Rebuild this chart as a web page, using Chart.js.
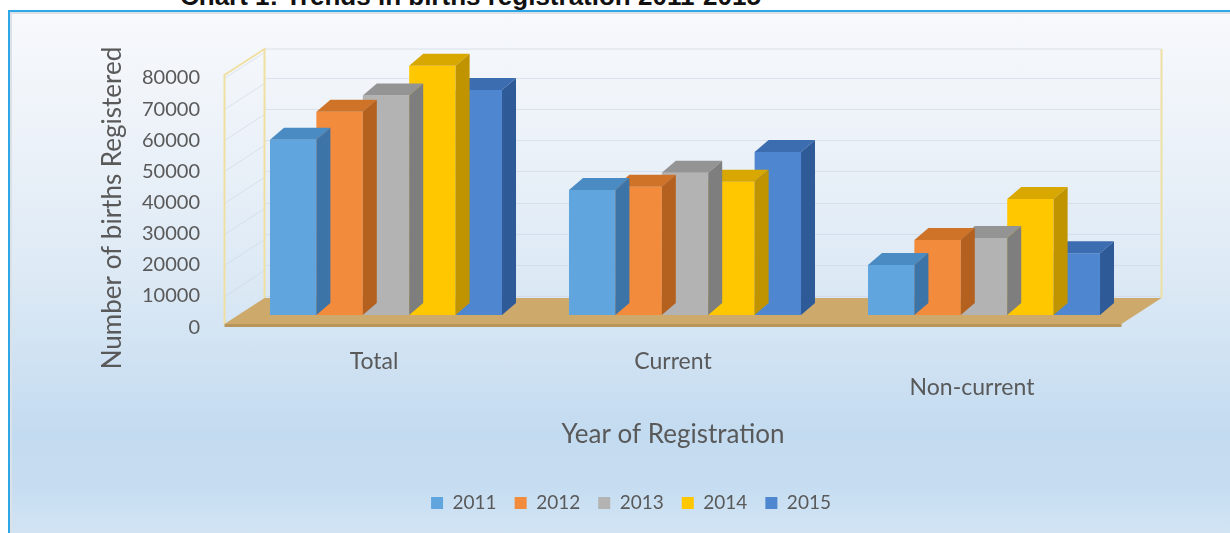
<!DOCTYPE html>
<html>
<head>
<meta charset="utf-8">
<script src="https://cdn.jsdelivr.net/npm/chart.js@4/dist/chart.umd.min.js"></script>
<style>
  body { margin: 0; background: #fff; overflow: hidden; width: 1230px; height: 533px; position: relative; }
  #title {
    position: absolute; left: 180px; top: -19px; line-height: 26px;
    font: bold 26px "Liberation Sans", Arial, sans-serif; color: #111; white-space: nowrap;
  }
  #box {
    position: absolute; left: 8px; top: 10px; width: 1240px; height: 540px;
    border-top: 2px solid #2ea7e8; border-left: 2px solid #2ea7e8;
    box-shadow: inset 2px 2px 0 #dde1e6;
    background: linear-gradient(to bottom, #f7f9fc 0%, #eef3f9 20%, #dce9f5 50%, #c3dbf0 78%, #c6ddf1 88%, #d6e7f5 100%);
  }
  #chart { position: absolute; left: 10px; top: 12px; }
</style>
</head>
<body>
<div id="title">Chart 1: Trends in births registration 2011-2015</div>
<div id="box"></div>
<canvas id="chart" width="1220" height="521"></canvas>
<script>
const categories = ["Total", "Current", "Non-current"];
const years = ["2011", "2012", "2013", "2014", "2015"];
const births2011 = [56300, 40200, 16100];
const births2012 = [65300, 41200, 24100];
const births2013 = [70500, 45700, 24800];
const births2014 = [80100, 42800, 37300];
const births2015 = [72300, 52400, 19900];
const yTicks = [0, 10000, 20000, 30000, 40000, 50000, 60000, 70000, 80000];

const series = [births2011, births2012, births2013, births2014, births2015];
const frontColors = ["#61a5de", "#f28b3b", "#b3b3b3", "#ffc700", "#4e86cf"];
const topColors = ["#4b8bc4", "#cf7329", "#949494", "#d9a800", "#3c6db0"];
const sideColors = ["#3d74a8", "#b4611f", "#7e7e7e", "#c09300", "#2f5a98"];

const FONT = "Lato, 'Open Sans', sans-serif";
const GREY = "#595959";

// fake 3d: walls, floor, and top/side faces of each bar
const WALL_DX = 40, WALL_DY = -26, FLOOR_LIFT = 3;
const BAR_SHIFT_X = 12, BAR_SHIFT_Y = -12;
const BAR_DX = 14, BAR_DY = -12;

const threeD = {
  id: "threeD",
  beforeDatasetsDraw(chart) {
    const ctx = chart.ctx;
    const area = chart.chartArea;
    const y = chart.scales.y;
    const y0 = y.getPixelForValue(0) - FLOOR_LIFT;
    const yTop = y.getPixelForValue(yTicks[yTicks.length - 1]) - FLOOR_LIFT;
    const L = area.left, R = area.right;
    ctx.save();
    // back wall grid
    ctx.strokeStyle = "rgba(205,214,226,0.6)";
    ctx.lineWidth = 1;
    yTicks.forEach(v => {
      if (v === 0) return;
      const py = Math.round(y.getPixelForValue(v)) + 0.5;
      ctx.beginPath();
      ctx.moveTo(L + WALL_DX, py);
      ctx.lineTo(R + WALL_DX, py);
      ctx.stroke();
      ctx.beginPath();
      ctx.moveTo(L, py);
      ctx.lineTo(L + WALL_DX, py + WALL_DY);
      ctx.stroke();
    });
    ctx.beginPath();
    ctx.moveTo(L + WALL_DX, yTop + WALL_DY);
    ctx.lineTo(R + WALL_DX, yTop + WALL_DY);
    ctx.stroke();
    // left wall outline
    ctx.strokeStyle = "#efe0a2";
    ctx.lineWidth = 2;
    ctx.beginPath();
    ctx.moveTo(L, y0);
    ctx.lineTo(L, yTop);
    ctx.lineTo(L + WALL_DX, yTop + WALL_DY);
    ctx.lineTo(L + WALL_DX, y0 + WALL_DY);
    ctx.stroke();
    // back wall right edge
    ctx.beginPath();
    ctx.moveTo(R + WALL_DX, yTop + WALL_DY);
    ctx.lineTo(R + WALL_DX, y0 + WALL_DY);
    ctx.stroke();
    // floor
    ctx.fillStyle = "#b8955a";
    ctx.beginPath();
    ctx.moveTo(L, y0);
    ctx.lineTo(R, y0);
    ctx.lineTo(R, y0 + 3);
    ctx.lineTo(L, y0 + 3);
    ctx.closePath();
    ctx.fill();
    ctx.fillStyle = "#cdaa6c";
    ctx.beginPath();
    ctx.moveTo(L, y0);
    ctx.lineTo(R, y0);
    ctx.lineTo(R + WALL_DX, y0 + WALL_DY);
    ctx.lineTo(L + WALL_DX, y0 + WALL_DY);
    ctx.closePath();
    ctx.fill();
    ctx.restore();
  },
  beforeDatasetDraw(chart) {
    chart.ctx.save();
    chart.ctx.translate(BAR_SHIFT_X, BAR_SHIFT_Y);
  },
  afterDatasetDraw(chart, args) {
    const ctx = chart.ctx;
    const i = args.index;
    chart.getDatasetMeta(i).data.forEach(bar => {
      const l = bar.x - bar.width / 2, r = bar.x + bar.width / 2;
      ctx.fillStyle = topColors[i];
      ctx.beginPath();
      ctx.moveTo(l, bar.y);
      ctx.lineTo(r, bar.y);
      ctx.lineTo(r + BAR_DX, bar.y + BAR_DY);
      ctx.lineTo(l + BAR_DX, bar.y + BAR_DY);
      ctx.closePath();
      ctx.fill();
      ctx.fillStyle = sideColors[i];
      ctx.beginPath();
      ctx.moveTo(r, bar.y);
      ctx.lineTo(r + BAR_DX, bar.y + BAR_DY);
      ctx.lineTo(r + BAR_DX, bar.base + BAR_DY);
      ctx.lineTo(r, bar.base);
      ctx.closePath();
      ctx.fill();
    });
    ctx.restore();
  }
};

new Chart(document.getElementById("chart"), {
  type: "bar",
  data: {
    labels: categories,
    datasets: years.map((year, i) => ({
      label: year,
      data: series[i],
      backgroundColor: frontColors[i],
      borderWidth: 0,
      categoryPercentage: 0.776,
      barPercentage: 1,
      clip: false
    }))
  },
  options: {
    responsive: false,
    animation: false,
    layout: { padding: { left: 83.4, right: 61.4, top: 66, bottom: 10.5 } },
    plugins: {
      legend: {
        position: "bottom",
        labels: { boxWidth: 12, boxHeight: 12, padding: 18, color: GREY, font: { family: FONT, size: 19 } }
      },
      tooltip: { enabled: false }
    },
    scales: {
      x: {
        grid: { display: false, drawTicks: false },
        border: { display: false },
        ticks: {
          padding: 11,
          color: GREY,
          font: { family: FONT, size: 23, lineHeight: 1.13 },
          // the last category sits lower, as in the perspective view
          callback: (v, i) => i === categories.length - 1 ? ["", categories[i]] : categories[i]
        },
        title: {
          display: true, text: "Year of Registration", color: GREY,
          font: { family: FONT, size: 26 }, padding: { top: 7.4, bottom: 24.9 }
        }
      },
      y: {
        min: -3500,
        max: 80000,
        grid: { display: false, drawTicks: false },
        border: { display: false },
        afterBuildTicks: scale => { scale.ticks = yTicks.map(v => ({ value: v })); },
        afterFit: scale => { scale.width = 131.1; },
        ticks: { padding: 24.5, color: GREY, font: { family: FONT, size: 20 }, callback: v => String(v) },
        title: {
          display: true, text: "Number of births Registered", color: GREY,
          font: { family: FONT, size: 26 }, padding: { top: 4, bottom: 4 }
        }
      },
      y2: {
        position: "right",
        grid: { display: false },
        border: { display: false },
        ticks: { display: false },
        afterFit: scale => { scale.width = 47.1; }
      }
    }
  },
  plugins: [threeD]
});
</script>
</body>
</html>
